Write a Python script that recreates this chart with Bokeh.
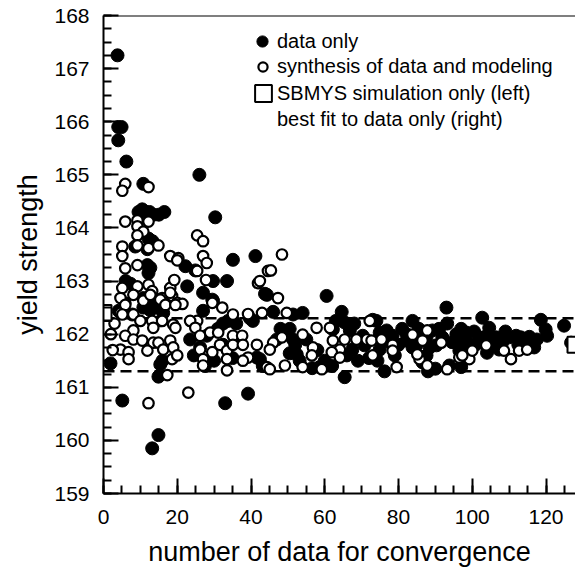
from bokeh.plotting import figure
from bokeh.models import Range1d, FixedTicker, Span, Legend, LegendItem
from bokeh.core.properties import value
from bokeh.embed import file_html
from bokeh.resources import INLINE

FONT = "Liberation Sans"

# ---- data ----
filled_x = [1.9, 3.8, 4.0, 4.9, 4.0, 6.2, 5.1, 13.2, 14.9, 10.8, 9.5, 10.5, 11.5, 12.5, 13.5, 15.0, 16.5,
            12.2, 13.3, 8.6, 11.9, 12.7, 12.2, 11.9, 6.0, 7.3, 10.8, 12.7, 10.8, 12.7, 7.8, 16.2, 4.1, 14.6,
            15.4, 14.9, 16.0, 22.2, 22.7, 26.0, 30.3, 35.1, 41.2, 24.9, 27.0, 29.7, 33.5, 29.5, 27.0, 29.7,
            32.4, 33.8, 39.7, 43.8, 28.0, 26.2, 32.4, 41.6, 43.2, 23.5, 24.5, 30.0, 35.0, 37.0, 36.0, 31.0,
            27.5, 33.0, 39.2, 44.3, 46.0, 51.4, 54.0, 60.5, 64.6, 65.4, 66.8, 50.5, 51.4, 62.2, 40.5, 42.4,
            50.5, 53.2, 56.6, 58.6, 65.4, 67.5, 52.4, 47.0, 48.0, 52.0, 55.0, 58.0, 60.0, 62.0, 63.0, 66.0,
            68.0, 69.0, 70.3, 73.0, 74.0, 74.9, 78.4, 76.2, 74.3, 93.0, 93.2, 83.8, 76.8, 82.2, 84.9, 87.6,
            89.2, 91.9, 95.7, 98.4, 70.8, 74.9, 83.8, 87.6, 90.3, 96.5, 93.8, 86.5, 82.2, 80.0, 81.0, 85.5,
            88.5, 91.0, 94.5, 97.0, 99.5, 102.7, 118.6, 119.9, 120.3, 124.9, 104.6, 98.4, 97.3, 101.1, 101.9,
            106.5, 108.1, 110.0, 111.9, 113.2, 114.6, 116.8, 107.3, 126.8, 97.0, 103.5, 105.5, 109.0, 112.5,
            115.5, 117.5, 104.0, 100.5, 88.0, 90.0, 85.0, 79.0, 72.0, 77.5]
filled_y = [161.45, 167.25, 165.9, 165.9, 165.65, 165.25, 160.75, 159.85, 160.1, 164.83, 164.3, 164.35, 164.3,
            164.3, 164.25, 164.25, 164.3, 163.8, 163.75, 163.65, 163.6, 163.25, 163.15, 163.3, 163.0, 162.95,
            162.68, 162.68, 162.5, 162.45, 162.37, 162.4, 162.44, 162.5, 161.43, 161.2, 161.5, 163.28, 162.9,
            165.0, 164.2, 163.4, 163.47, 163.2, 162.78, 163.0, 163.0, 162.65, 162.44, 162.63, 162.2, 162.25,
            162.3, 162.76, 161.97, 161.75, 161.8, 161.56, 161.4, 161.9, 161.6, 161.5, 161.55, 161.9, 162.2,
            162.1, 161.4, 160.7, 160.88, 162.74, 162.42, 162.37, 162.4, 162.72, 162.42, 162.22, 162.07, 162.1,
            161.9, 162.09, 162.25, 161.53, 161.64, 161.5, 161.36, 161.38, 161.19, 161.71, 161.62, 161.9,
            162.1, 161.8, 161.9, 161.7, 161.5, 161.4, 162.25, 161.6, 162.2, 161.5, 161.97, 162.27, 162.25,
            162.03, 161.97, 161.3, 161.5, 162.5, 162.2, 162.25, 162.07, 161.88, 161.94, 161.94, 162.07,
            161.94, 162.0, 161.88, 161.79, 161.71, 161.75, 161.6, 161.79, 161.69, 161.41, 161.47, 162.0,
            161.8, 162.1, 162.1, 161.75, 162.1, 161.85, 162.1, 161.75, 162.31, 162.27, 162.09, 161.97,
            162.16, 162.12, 162.03, 161.88, 161.81, 161.94, 161.94, 161.84, 161.94, 161.97, 161.94, 161.84,
            161.75, 161.71, 161.84, 161.38, 161.95, 161.8, 162.05, 161.8, 161.95, 161.9, 161.65, 162.05,
            161.3, 161.35, 161.8, 161.6, 161.55, 161.85]

open_x = [5.9, 5.1, 12.2, 5.9, 9.2, 9.2, 12.2, 10.8, 9.2, 5.1, 5.1, 9.2, 12.2, 14.9, 18.1, 20.3, 5.9, 9.2,
          5.1, 9.2, 12.2, 8.1, 10.8, 13.2, 18.1, 19.2, 15.9, 18.6, 20.0, 21.4, 5.9, 4.6, 8.1, 10.0, 15.4,
          18.9, 25.4, 27.0, 27.0, 28.0, 25.4, 20.0, 41.9, 15.4, 16.8, 19.5, 25.4, 35.1, 39.2, 4.6, 12.7,
          18.1, 5.9, 5.1, 13.2, 15.9, 8.1, 13.5, 19.5, 5.9, 8.1, 10.5, 13.5, 14.9, 18.1, 4.6, 6.8, 11.9,
          16.2, 18.9, 6.8, 18.6, 20.0, 17.3, 12.2, 23.0, 2.0, 2.5, 3.0, 27.8, 29.5, 32.2, 23.5, 24.9, 26.2,
          28.9, 31.1, 35.1, 37.6, 43.0, 44.6, 45.4, 42.4, 48.4, 26.2, 29.5, 31.6, 33.5, 35.1, 37.8, 41.6,
          39.2, 37.8, 27.0, 33.5, 33.5, 27.0, 44.3, 47.3, 49.7, 57.8, 54.0, 48.4, 46.0, 45.1, 61.4, 62.2,
          65.4, 68.6, 71.4, 72.2, 56.8, 56.5, 64.1, 61.9, 64.1, 54.0, 49.2, 45.1, 59.2, 73.0, 78.4, 79.5,
          72.7, 75.4, 78.4, 83.8, 86.5, 87.8, 91.6, 85.7, 85.1, 87.8, 93.2, 96.5, 99.2, 97.3, 100.0, 103.8,
          108.6, 110.5, 112.7, 114.9]
open_y = [164.83, 164.7, 164.77, 164.12, 164.14, 164.03, 164.12, 163.93, 163.86, 163.65, 163.47, 163.67,
          163.62, 163.67, 163.47, 163.43, 163.24, 163.3, 162.87, 162.9, 162.93, 162.74, 162.63, 162.81,
          162.87, 163.02, 162.68, 162.72, 162.59, 162.57, 162.59, 162.4, 162.37, 162.25, 162.25, 162.18,
          163.86, 163.75, 163.47, 163.34, 163.19, 163.39, 162.96, 162.65, 162.55, 162.55, 162.25, 162.37,
          162.38, 162.68, 162.74, 162.78, 162.55, 162.37, 162.25, 162.25, 162.07, 162.12, 162.12, 161.97,
          161.9, 161.88, 161.84, 161.84, 161.88, 161.71, 161.66, 161.69, 161.71, 161.75, 161.53, 161.53,
          161.6, 161.23, 160.7, 160.9, 162.0, 161.7, 162.2, 163.02, 162.59, 162.5, 162.25, 162.12, 161.97,
          162.03, 162.03, 161.97, 161.97, 162.4, 163.19, 163.2, 163.0, 163.5, 161.71, 161.66, 161.8, 161.69,
          161.8, 161.8, 161.8, 161.56, 161.5, 161.53, 161.53, 161.32, 161.41, 161.38, 162.68, 162.4, 162.12,
          161.99, 161.94, 161.84, 161.71, 162.12, 161.88, 161.9, 161.9, 161.9, 162.25, 161.75, 161.6, 161.71,
          161.66, 161.56, 161.38, 161.41, 161.34, 161.34, 161.6, 161.8, 161.38, 161.88, 161.9, 161.69,
          161.99, 161.88, 162.07, 161.84, 161.53, 161.62, 161.41, 161.34, 161.56, 161.53, 161.6, 161.69,
          161.79, 161.69, 161.53, 161.69, 161.71]

square_x = [0.0, 128.0]          # SBMYS simulation (left), best fit (right)
square_y = [162.4, 161.8]

band_levels = [162.3, 161.3]     # dashed lines

x_major = [0, 20, 40, 60, 80, 100, 120]
x_minor = [v for v in range(0, 130, 5)]
y_major = [159, 160, 161, 162, 163, 164, 165, 166, 167, 168]
y_minor = [159 + 0.25 * i for i in range(37)]

# ---- figure ----
p = figure(width=575, height=569, output_backend="svg", toolbar_location=None,
           x_range=Range1d(0, 128), y_range=Range1d(159, 168),
           min_border_left=103, min_border_right=0, min_border_top=15, min_border_bottom=72)
p.outline_line_color = None
p.grid.visible = False
p.background_fill_color = "white"
p.border_fill_color = "white"

p.xaxis.ticker = FixedTicker(ticks=x_major, minor_ticks=x_minor)
p.yaxis.ticker = FixedTicker(ticks=y_major, minor_ticks=y_minor)
p.xaxis.axis_label = "number of data for convergence"
p.yaxis.axis_label = "yield strength"

for ax in (p.xaxis[0], p.yaxis[0]):
    ax.axis_line_width = 2
    ax.axis_line_color = "black"
    ax.major_tick_in = 15
    ax.major_tick_out = 0
    ax.minor_tick_in = 8
    ax.minor_tick_out = 0
    ax.major_tick_line_width = 2
    ax.minor_tick_line_width = 2
    ax.major_tick_line_color = "black"
    ax.minor_tick_line_color = "black"
    ax.major_label_text_font = FONT
    ax.major_label_text_font_size = "21px"
    ax.major_label_text_color = "black"
    ax.axis_label_text_font = FONT
    ax.axis_label_text_font_size = "27px"
    ax.axis_label_text_font_style = "normal"
    ax.axis_label_text_color = "black"

p.xaxis.major_label_standoff = 16
p.yaxis.major_label_standoff = 14
p.xaxis.axis_label_standoff = 10
p.yaxis.axis_label_standoff = 8

# top border
p.add_layout(Span(location=168, dimension="width", line_color="black", line_width=2))

# dashed band lines
for lv in band_levels:
    p.add_layout(Span(location=lv, dimension="width", line_color="black", line_width=2.5,
                      line_dash="11 6", level="underlay"))

r_f = p.scatter(filled_x, filled_y, marker="circle", size=13, fill_color="black", line_color="black")
r_o = p.scatter(open_x, open_y, marker="circle", size=10.5, fill_color="white", line_color="black",
                line_width=2.2)
r_s = p.scatter(square_x, square_y, marker="square", size=16, fill_color="white", line_color="black",
                line_width=2)
r_blank = p.scatter(x=[], y=[], marker="circle", size=1, fill_alpha=0, line_alpha=0)


def mk_legend(items, loc, gw, gh, standoff, spacing=0, lh=20):
    lg = Legend(items=items, location=loc, glyph_width=gw, glyph_height=gh, label_standoff=standoff,
                padding=0, margin=0, spacing=spacing, border_line_color=None, background_fill_alpha=0,
                label_text_font=FONT, label_text_font_size="20px", label_text_color="black",
                label_height=lh)
    p.add_layout(lg)


mk_legend([LegendItem(label=value("data only"), renderers=[r_f])], (145, 438), 28, 28, 1)
mk_legend([LegendItem(label=value("synthesis of data and modeling"), renderers=[r_o])], (148, 415), 23, 23, 3)
mk_legend([LegendItem(label=value(" "), renderers=[r_s])], (139, 379), 42, 42, 0)
mk_legend([LegendItem(label=value("SBMYS simulation only (left)"), renderers=[r_blank]),
           LegendItem(label=value("best fit to data only (right)"), renderers=[r_blank])],
          (173, 361), 1, 26, 0, 0, 26)

open("out.html", "w").write(file_html(p, INLINE))
